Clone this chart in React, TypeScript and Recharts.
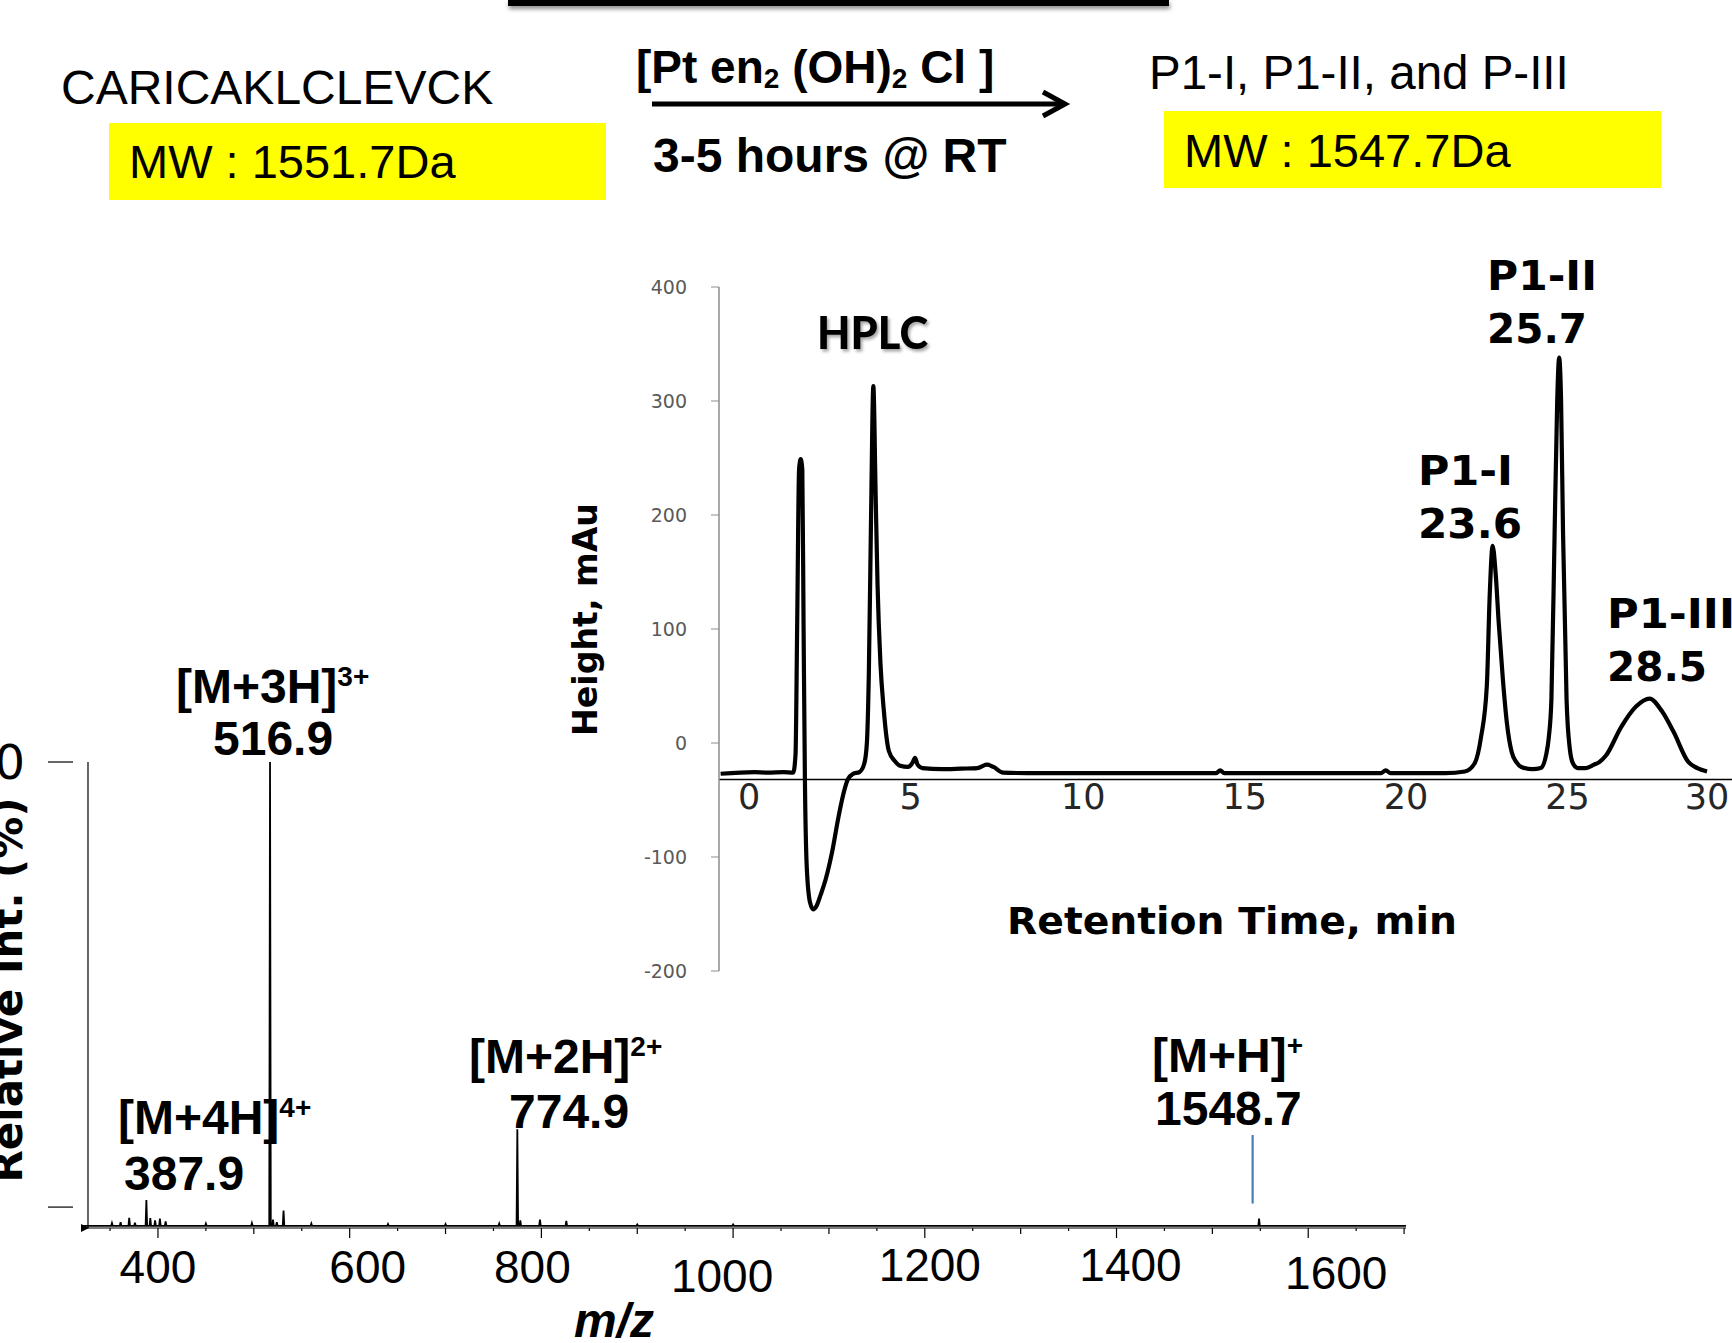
import React from 'react'
import { LineChart, Line, XAxis, YAxis, ReferenceLine, ReferenceDot } from 'recharts'

// ---- HPLC chromatogram: [retention time (min), height (mAu)]
const HPLC_TRACE: [number, number][] = [
  [-0.85, -27], [0.2, -25.5], [0.6, -26], [1.1, -25.5], [1.4, -26],
  [1.47, -10], [1.52, 100], [1.58, 240], [1.63, 249], [1.68, 240], [1.72, 100],
  [1.76, -30], [1.82, -110], [1.92, -140], [2.02, -146], [2.12, -143], [2.25, -133],
  [2.4, -120], [2.6, -96], [2.8, -65], [2.95, -45], [3.09, -32], [3.25, -27], [3.45, -25.5],
  [3.6, -18], [3.68, 0], [3.74, 60], [3.81, 200], [3.88, 313], [3.95, 220], [4.01, 139],
  [4.1, 70], [4.2, 30], [4.36, -7], [4.55, -16], [4.71, -20], [4.95, -21],
  [5.1, -17], [5.17, -13], [5.25, -19], [5.4, -22], [6.0, -23], [6.6, -22.5], [7.1, -22],
  [7.4, -19], [7.6, -21], [7.9, -26], [9, -26.5], [12, -26.5], [14.5, -26.5], [14.62, -24],
  [14.75, -26.5], [17, -26.5], [19.6, -26.5], [19.75, -24], [19.9, -26.5], [21.6, -26.5],
  [22.2, -25], [22.5, -18], [22.7, 5], [22.88, 50], [22.97, 130], [23.06, 173], [23.15, 150],
  [23.25, 105], [23.38, 55], [23.5, 18], [23.65, -8], [23.8, -17], [23.95, -21], [24.3, -23],
  [24.55, -22], [24.72, -10], [24.8, 5], [24.88, 38], [24.98, 185], [25.06, 300], [25.12, 338],
  [25.18, 300], [25.24, 185], [25.35, 38], [25.45, -5], [25.55, -18], [25.7, -22], [25.95, -22],
  [26.2, -19], [26.35, -17], [26.57, -11], [27.04, 14], [27.5, 32], [27.92, 39], [28.3, 28],
  [28.66, 10], [29.12, -16.6], [29.4, -22], [29.7, -25],
]
const HPLC_X_TICKS = [0, 5, 10, 15, 20, 25, 30]
const HPLC_Y_TICKS = [-200, -100, 0, 100, 200, 300, 400]
const HPLC_AXIS_CROSS = -32 // the time axis is drawn at this height
const HPLC_PEAKS = [
  { name: 'P1-I', rt: '23.6' },
  { name: 'P1-II', rt: '25.7' },
  { name: 'P1-III', rt: '28.5' },
]

// ---- ESI-MS stick spectrum: [m/z, relative intensity (%)]
const MS_BASE = -4.2
const MS_PEAKS: [number, number][] = [
  [352, -3.6], [361, -3.4], [370, -2.4], [376, -3.5], [387.9, 1.6], [392, -2.5], [397, -3.0],
  [402, -2.6], [408, -3.2], [450, -3.7], [498, -3.6], [516.9, 100], [520, -2.8], [524, -3.4],
  [531, -0.8], [560, -3.7], [640, -3.8], [700, -3.8], [756, -3.7], [774.9, 17.5], [778, -3.0],
  [798.5, -2.8], [826, -3.1], [900, -3.9], [1000, -3.9], [1548.7, -2.6],
]
const MS_X_TICKS = [
  350, 400, 450, 500, 550, 600, 650, 700, 750, 800, 850, 900, 950, 1000,
  1050, 1100, 1150, 1200, 1250, 1300, 1350, 1400, 1450, 1500, 1550, 1600, 1650, 1700,
]
const MS_Y_TICKS = [0, 100]
const MS_IONS = [
  { ion: '[M+4H]', charge: '4+', mz: '387.9' },
  { ion: '[M+3H]', charge: '3+', mz: '516.9' },
  { ion: '[M+2H]', charge: '2+', mz: '774.9' },
  { ion: '[M+H]', charge: '+', mz: '1548.7' },
]
const MS_MARKER_MZ = 1542
const MS_MARKER_SPAN = [0.8, 16.2]

// ---- layout (page pixels)
const ARIAL = "'Liberation Sans', Arial, sans-serif"
const VERDANA = "'DejaVu Sans', Verdana, sans-serif"
const CALIBRI = "Lato, 'Open Sans', sans-serif"
const ION_POS = [
  { x: 118, y: 1134, nx: 124, ny: 1190 },
  { x: 176, y: 703, nx: 213, ny: 755 },
  { x: 469, y: 1073, nx: 509, ny: 1128 },
  { x: 1152, y: 1072, nx: 1155, ny: 1125 },
]
const PEAK_POS = [
  { x: 1418, y: 485, w1: 95, w2: 104 },
  { x: 1487, y: 290, w1: 110, w2: 100 },
  { x: 1607, y: 628, w1: 128, w2: 100 },
]
const MS_TICK_NUDGE: Record<number, [number, number]> = {
  600: [18, 0], 800: [-9, 0], 1000: [-11, 9], 1200: [5, -2], 1400: [14, -2], 1600: [28, 6],
}
const HPLC_TICK_NUDGE: Record<number, number> = { 30: -22 }
const HPLC_TICK_DY = -162

const hplcData = HPLC_TRACE.map(([t, h]) => ({ t, h }))

const msData: { mz: number; v: number }[] = [{ mz: 322, v: MS_BASE }]
MS_PEAKS.forEach(([mz, v]) => {
  msData.push({ mz: mz - 0.8, v: MS_BASE }, { mz, v }, { mz: mz + 0.8, v: MS_BASE })
})
msData.push({ mz: 1702, v: MS_BASE })

function MsXTick(props: any) {
  const { x, y, payload } = props
  const v = payload.value as number
  const len = v % 200 === 0 ? 10 : v % 100 === 0 ? 6 : 3
  const [dx, dy] = MS_TICK_NUDGE[v] ?? [0, 0]
  return (
    <g>
      <line x1={x} x2={x} y1={y} y2={y + len} stroke="#000" strokeWidth={1.2} />
      {v % 200 === 0 && (
        <text x={x + dx} y={y + 55 + dy} textAnchor="middle" fontSize={46} fontFamily={ARIAL} fill="#000">
          {v}
        </text>
      )}
    </g>
  )
}

function MsYTick(props: any) {
  const { x, y, payload } = props
  return (
    <g>
      <line x1={x - 33} x2={x - 8} y1={y} y2={y} stroke="#000" strokeWidth={1.2} />
      {payload.value === 100 && (
        <text x={x - 56} y={y + 17} textAnchor="end" fontSize={48} fontFamily={VERDANA} fill="#000">
          {payload.value}
        </text>
      )}
    </g>
  )
}

// time labels sit just under the crossing axis line, left-aligned near the tick
function HplcXTick(props: any) {
  const { x, y, payload } = props
  const dx = HPLC_TICK_NUDGE[payload.value] ?? 0
  return (
    <text x={x - 10 + dx} y={y + HPLC_TICK_DY} textAnchor="start" fontSize={35} fontFamily={VERDANA} fill="#262626">
      {payload.value}
    </text>
  )
}

export default function App() {
  const bold = { fontWeight: 700 as const }
  return (
    <div style={{ position: 'relative', width: 1732, height: 1343, overflow: 'hidden', background: '#fff' }}>
      <style>{'body{margin:0}'}</style>

      {/* black bar at the top edge */}
      <div style={{
        position: 'absolute', left: 508, top: 0, width: 661, height: 6, background: '#000',
        boxShadow: '1px 3px 4px rgba(0,0,0,0.45)',
      }} />

      {/* ESI-MS spectrum */}
      <div style={{ position: 'absolute', left: 0, top: 700 }}>
        <LineChart width={1420} height={600} data={msData} margin={{ top: 62, right: 14, bottom: 0, left: 0 }}>
          <XAxis
            dataKey="mz" type="number" domain={[319.7, 1702]} ticks={MS_X_TICKS} allowDataOverflow
            height={72} tickLine={false} tickSize={0} tickMargin={0} interval={0}
            axisLine={{ stroke: '#000', strokeWidth: 1.2 }} tick={<MsXTick />}
          />
          <YAxis
            type="number" domain={[-4.7, 100]} ticks={MS_Y_TICKS} allowDataOverflow width={81}
            axisLine={false} tickLine={false} tickSize={0} tickMargin={0} tick={<MsYTick />}
          />
          <ReferenceLine x={327} stroke="#000" strokeWidth={1.2} />
          <ReferenceLine
            segment={[{ x: MS_MARKER_MZ, y: MS_MARKER_SPAN[0] }, { x: MS_MARKER_MZ, y: MS_MARKER_SPAN[1] }]}
            stroke="#4a7ebb" strokeWidth={2.2}
          />
          <ReferenceDot
            x={323.9} y={-4.7} ifOverflow="visible"
            shape={(p: any) => (
              <polygon points={`${p.cx - 4},${p.cy - 4} ${p.cx + 4},${p.cy} ${p.cx - 4},${p.cy + 4}`} fill="#000" />
            )}
          />
          <Line
            dataKey="v" type="linear" stroke="#000" strokeWidth={1.8} dot={false}
            isAnimationActive={false}
          />
        </LineChart>
      </div>

      {/* HPLC chromatogram */}
      <div style={{ position: 'absolute', left: 560, top: 250 }}>
        <LineChart width={1240} height={760} data={hplcData} margin={{ top: 37, right: 51, bottom: 9, left: 0 }}>
          <XAxis
            dataKey="t" type="number" domain={[-0.9, 31]} ticks={HPLC_X_TICKS} allowDataOverflow
            height={30} axisLine={false} tickLine={false} tickSize={0} tickMargin={0} interval={0}
            tick={<HplcXTick />}
          />
          <YAxis
            type="number" domain={[-200, 400]} ticks={HPLC_Y_TICKS} width={159}
            tickSize={8} tickMargin={24} interval={0}
            axisLine={{ stroke: '#8c8c8c', strokeWidth: 1.5 }} tickLine={{ stroke: '#8c8c8c' }}
            tick={{ fill: '#595959', fontSize: 19, fontFamily: VERDANA }}
          />
          <ReferenceLine y={HPLC_AXIS_CROSS} stroke="#000" strokeWidth={1.6} />
          <Line
            dataKey="h" type="monotone" stroke="#000" strokeWidth={4.2} dot={false}
            isAnimationActive={false}
          />
        </LineChart>
      </div>

      {/* text annotations */}
      <svg width={1732} height={1343} style={{ position: 'absolute', left: 0, top: 0, pointerEvents: 'none' }}>
        <defs>
          <filter id="shadow" x="-10%" y="-10%" width="130%" height="140%">
            <feDropShadow dx="2" dy="2.5" stdDeviation="1.5" floodColor="#000" floodOpacity="0.35" />
          </filter>
        </defs>

        <text x={61} y={104} fontSize={48} fontFamily={ARIAL}>CARICAKLCLEVCK</text>
        <rect x={109} y={123} width={497} height={77} fill="#ffff00" />
        <text x={129} y={178} fontSize={47} fontFamily={ARIAL}>MW : 1551.7Da</text>

        <text x={636} y={83} fontSize={46} fontFamily={ARIAL} {...bold}>
          [Pt en<tspan fontSize={28} dy={5}>2</tspan>
          <tspan dy={-5}> (OH)</tspan>
          <tspan fontSize={28} dy={5}>2</tspan>
          <tspan dy={-5}> Cl ]</tspan>
        </text>
        <path d="M652 104 H1062" stroke="#000" strokeWidth={5} />
        <path d="M1043 92 L1065 104 L1043 116" stroke="#000" strokeWidth={5} fill="none" />
        <text x={653} y={172} fontSize={48} fontFamily={ARIAL} {...bold}>3-5 hours @ RT</text>

        <text x={1149} y={89} fontSize={47.5} fontFamily={ARIAL}>P1-I, P1-II, and P-III</text>
        <rect x={1164} y={111} width={497} height={77} fill="#ffff00" />
        <text x={1184} y={167} fontSize={47} fontFamily={ARIAL}>MW : 1547.7Da</text>

        {/* HPLC labels */}
        <text x={817} y={349} fontSize={45} fontFamily={CALIBRI} fontWeight={900} textLength={111}
          lengthAdjust="spacingAndGlyphs" filter="url(#shadow)">HPLC</text>
        {HPLC_PEAKS.map((p, i) => (
          <g key={p.name} fontFamily={VERDANA} fontSize={40} fontWeight={700}>
            <text x={PEAK_POS[i].x} y={PEAK_POS[i].y} textLength={PEAK_POS[i].w1} lengthAdjust="spacingAndGlyphs">{p.name}</text>
            <text x={PEAK_POS[i].x} y={PEAK_POS[i].y + 53} textLength={PEAK_POS[i].w2} lengthAdjust="spacingAndGlyphs">{p.rt}</text>
          </g>
        ))}
        <text transform="translate(597,619.5) rotate(-90)" textAnchor="middle" fontSize={34}
          fontFamily={VERDANA} {...bold} textLength={233} lengthAdjust="spacingAndGlyphs">Height, mAu</text>
        <text x={1007} y={934} fontSize={37} fontFamily={VERDANA} {...bold} textLength={450}
          lengthAdjust="spacingAndGlyphs">Retention Time, min</text>

        {/* MS labels */}
        {MS_IONS.map((m, i) => (
          <g key={m.mz} fontFamily={ARIAL} fontWeight={700}>
            <text x={ION_POS[i].x} y={ION_POS[i].y} fontSize={48}>
              {m.ion}<tspan fontSize={28} dy={-17}>{m.charge}</tspan>
            </text>
            <text x={ION_POS[i].nx} y={ION_POS[i].ny} fontSize={48}>{m.mz}</text>
          </g>
        ))}
        <text transform="translate(22,990) rotate(-90)" textAnchor="middle" fontSize={42}
          fontFamily={VERDANA} {...bold}>Relative Int. (%)</text>
        <text x={574} y={1337} fontSize={48} fontFamily={ARIAL} fontStyle="italic" {...bold}>m/z</text>
      </svg>
    </div>
  )
}
